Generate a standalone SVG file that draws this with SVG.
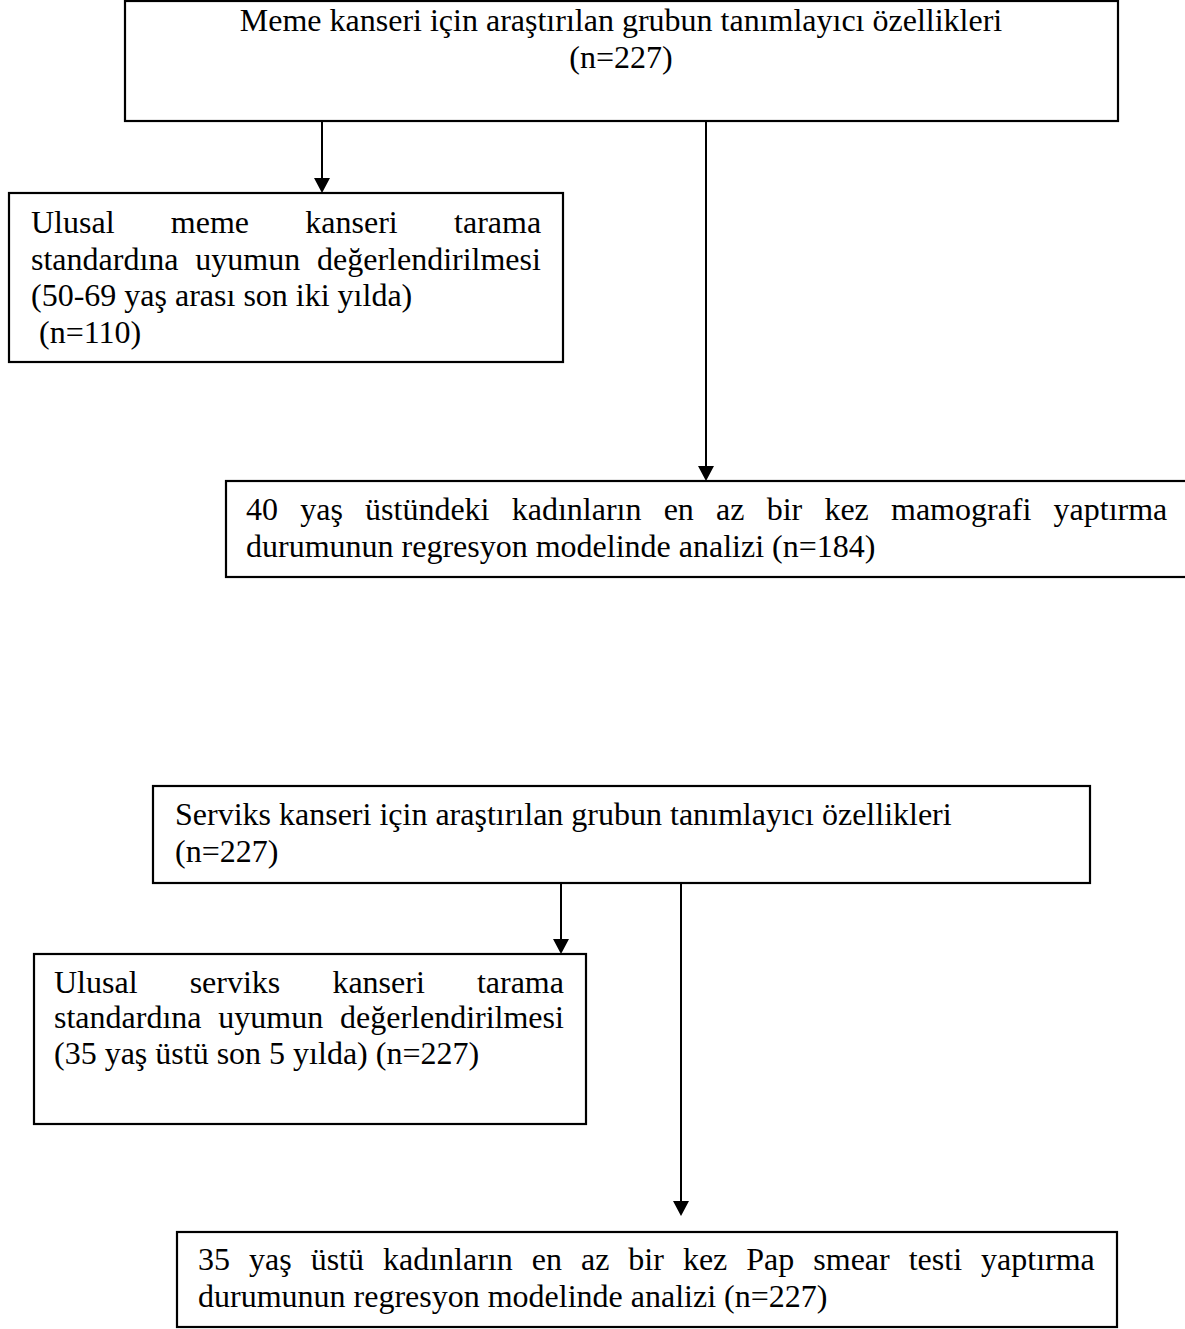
<svg xmlns="http://www.w3.org/2000/svg" width="1185" height="1329" viewBox="0 0 1185 1329">
<defs>
<style>
.box{fill:#fff;stroke:#000;stroke-width:2.2}
.t{font-family:"Liberation Serif","Times New Roman",serif;font-size:32px;fill:#000}
.c{stroke:#000;stroke-width:2;fill:none}
</style>
<marker id="ah" viewBox="0 0 15 16" refX="5" refY="8" markerWidth="15" markerHeight="16" markerUnits="userSpaceOnUse" orient="auto">
<path d="M0,0 L15,8 L0,16 z" fill="#000"/>
</marker>
</defs>
<rect width="1185" height="1329" fill="#fff"/>
<g id="connectors">
<line class="c" x1="322" y1="121" x2="322" y2="183" marker-end="url(#ah)"/>
<line class="c" x1="706" y1="121" x2="706" y2="471" marker-end="url(#ah)"/>
<line class="c" x1="561" y1="883" x2="561" y2="944" marker-end="url(#ah)"/>
<line class="c" x1="681" y1="883" x2="681" y2="1206" marker-end="url(#ah)"/>
</g>
<g id="n1">
<rect class="box" x="125" y="1" width="993" height="120"/>
<text class="t" x="621" y="31" text-anchor="middle">Meme kanseri için araştırılan grubun tanımlayıcı özellikleri</text>
<text class="t" x="621" y="68" text-anchor="middle">(n=227)</text>
</g>
<g id="n2">
<rect class="box" x="9" y="193" width="554" height="169"/>
<text class="t" x="31" y="233" style="word-spacing:48.3px">Ulusal meme kanseri tarama</text>
<text class="t" x="31" y="270" style="word-spacing:8.8px">standardına uyumun değerlendirilmesi</text>
<text class="t" x="31" y="306">(50-69 yaş arası son iki yılda)</text>
<text class="t" x="39" y="343">(n=110)</text>
</g>
<g id="n3">
<rect class="box" x="226" y="481" width="970" height="96"/>
<text class="t" x="246" y="520" style="word-spacing:14.2px">40 yaş üstündeki kadınların en az bir kez mamografi yaptırma</text>
<text class="t" x="246" y="557">durumunun regresyon modelinde analizi (n=184)</text>
</g>
<g id="n4">
<rect class="box" x="153" y="786" width="937" height="97"/>
<text class="t" x="175" y="825">Serviks kanseri için araştırılan grubun tanımlayıcı özellikleri</text>
<text class="t" x="175" y="862">(n=227)</text>
</g>
<g id="n5">
<rect class="box" x="34" y="954" width="552" height="170"/>
<text class="t" x="54" y="993" style="word-spacing:44.1px">Ulusal serviks kanseri tarama</text>
<text class="t" x="54" y="1028" style="word-spacing:8.8px">standardına uyumun değerlendirilmesi</text>
<text class="t" x="54" y="1064">(35 yaş üstü son 5 yılda) (n=227)</text>
</g>
<g id="n6">
<rect class="box" x="177" y="1232" width="940" height="95"/>
<text class="t" x="198" y="1270" style="word-spacing:11px">35 yaş üstü kadınların en az bir kez Pap smear testi yaptırma</text>
<text class="t" x="198" y="1307">durumunun regresyon modelinde analizi (n=227)</text>
</g>
</svg>
